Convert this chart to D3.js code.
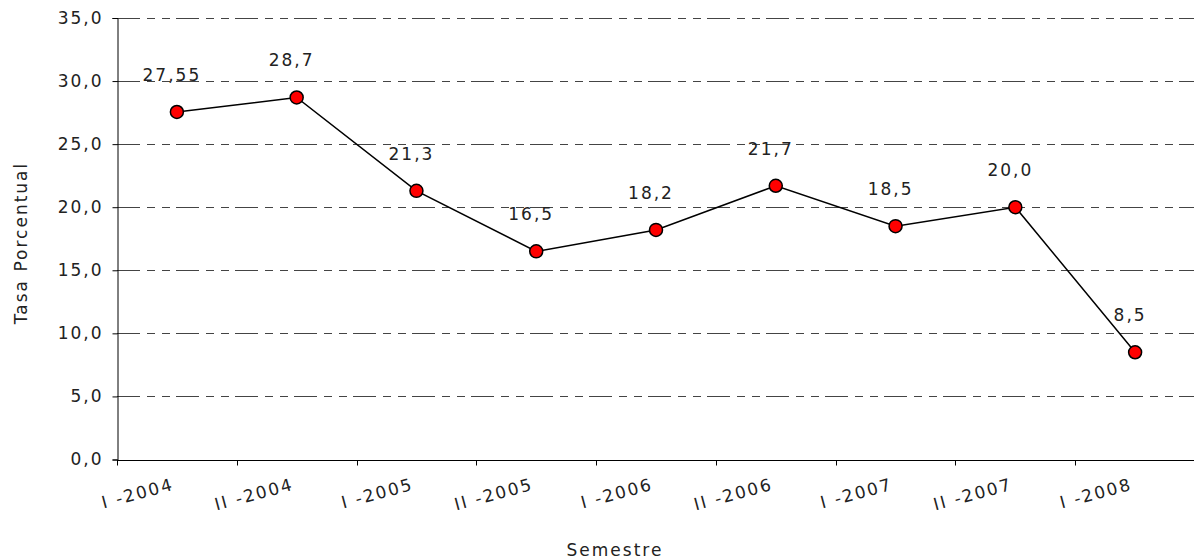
<!DOCTYPE html>
<html>
<head>
<meta charset="utf-8">
<script src="https://cdn.jsdelivr.net/npm/d3@7"></script>
<style>
  body { margin: 0; background: #fff; }
  text { font-family: "DejaVu Sans", Verdana, sans-serif; font-size: 17px; fill: #222; letter-spacing: 2px; }
</style>
</head>
<body>
<svg id="canvas" width="1194" height="560"></svg>
<script>
// semestres y tasas
const categories = ['I -2004', 'II -2004', 'I -2005', 'II -2005', 'I -2006', 'II -2006', 'I -2007', 'II -2007', 'I -2008'];
const values = [27.55, 28.7, 21.3, 16.5, 18.2, 21.7, 18.5, 20.0, 8.5];
const valueLabels = ['27,55', '28,7', '21,3', '16,5', '18,2', '21,7', '18,5', '20,0', '8,5'];
const yTicks = [0, 5, 10, 15, 20, 25, 30, 35];

const svg = d3.select('#canvas');
const plotLeft = 117, plotRight = 1195, plotTop = 18, plotBottom = 459.5;

const x = d3.scaleBand().domain(categories).range([plotLeft, plotRight]);
const y = d3.scaleLinear().domain([0, 35]).range([plotBottom, plotTop]);
const fmt = d => d.toFixed(1).replace('.', ',');

// gridlines
svg.append('g')
  .selectAll('line')
  .data(yTicks.filter(d => d > 0))
  .join('line')
  .attr('x1', plotLeft).attr('x2', plotRight)
  .attr('y1', d => Math.round(y(d)) + 0.5).attr('y2', d => Math.round(y(d)) + 0.5)
  .attr('stroke', '#444')
  .attr('stroke-width', 1)
  .attr('stroke-dasharray', '23,7,8,7,8,6');

// y axis
const yAxis = svg.append('g')
  .attr('transform', `translate(${plotLeft + 0.5},0)`)
  .call(d3.axisLeft(y).tickValues(yTicks).tickFormat(fmt).tickSize(5).tickPadding(9));
yAxis.select('.domain').attr('stroke', '#000');
yAxis.selectAll('.tick line').attr('stroke', '#000');
yAxis.attr('font-family', null).attr('font-size', null);
yAxis.selectAll('.tick text').attr('fill', '#222');

// x axis: ticks at category boundaries
const xAxis = svg.append('g').attr('transform', `translate(0,${Math.round(plotBottom) + 0.5})`);
xAxis.append('line')
  .attr('x1', plotLeft).attr('x2', plotRight)
  .attr('stroke', '#000');
xAxis.selectAll('.tk')
  .data(categories)
  .join('line')
  .attr('class', 'tk')
  .attr('x1', d => Math.round(x(d)) + 0.5).attr('x2', d => Math.round(x(d)) + 0.5)
  .attr('y1', 0).attr('y2', 5)
  .attr('stroke', '#000');
xAxis.selectAll('text')
  .data(categories)
  .join('text')
  .attr('text-anchor', 'end')
  .attr('transform', d => `translate(${x(d) + x.bandwidth() / 2 - 2},${489 - Math.round(plotBottom)}) rotate(-15)`)
  .text(d => d);

// line
const cx = (d, i) => x(categories[i]) + x.bandwidth() / 2;
svg.append('path')
  .datum(values)
  .attr('fill', 'none')
  .attr('stroke', '#000')
  .attr('stroke-width', 1.5)
  .attr('d', d3.line().x(cx).y(d => y(d)));

// markers
svg.append('g')
  .selectAll('circle')
  .data(values)
  .join('circle')
  .attr('cx', cx)
  .attr('cy', d => y(d))
  .attr('r', 6.5)
  .attr('fill', '#ff0000')
  .attr('stroke', '#000')
  .attr('stroke-width', 1.5);

// data labels
svg.append('g')
  .selectAll('text')
  .data(values)
  .join('text')
  .attr('text-anchor', 'middle')
  .attr('x', (d, i) => cx(d, i) - 5)
  .attr('y', d => y(d) - 31)
  .text((d, i) => valueLabels[i]);

// axis titles
svg.append('text')
  .attr('text-anchor', 'middle')
  .attr('transform', 'translate(27,243) rotate(-90)')
  .text('Tasa Porcentual');

svg.append('text')
  .attr('text-anchor', 'middle')
  .attr('x', 615)
  .attr('y', 556)
  .text('Semestre');
</script>
</body>
</html>
